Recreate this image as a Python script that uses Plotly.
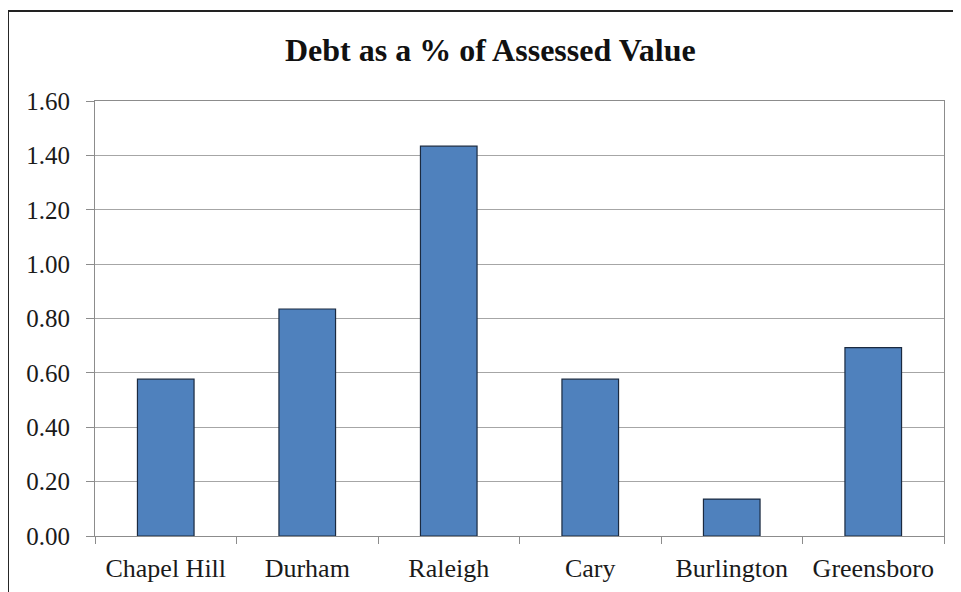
import plotly.graph_objects as go

categories = ["Chapel Hill", "Durham", "Raleigh", "Cary", "Burlington", "Greensboro"]
values = [0.577, 0.835, 1.434, 0.577, 0.136, 0.693]
y_ticks = [0.0, 0.2, 0.4, 0.6, 0.8, 1.0, 1.2, 1.4, 1.6]
y_tick_labels = ["%.2f" % v for v in y_ticks]

font_family = "Liberation Serif"

fig = go.Figure(go.Bar(
    x=categories, y=values,
    marker=dict(color="#4F81BD", line=dict(color="#1B2A40", width=1.2)),
))

fig.update_layout(
    width=961, height=592,
    margin=dict(l=87, r=25, t=93, b=64),
    paper_bgcolor="white", plot_bgcolor="white",
    bargap=0.6,
    showlegend=False,
    font=dict(family=font_family, size=25, color="#1a1a1a"),
    annotations=[dict(
        text="<b>Debt as a % of Assessed Value</b>",
        xref="paper", yref="paper", x=0.4664, y=1.117,
        xanchor="center", yanchor="middle", showarrow=False,
        font=dict(family=font_family, size=32, color="#111111"),
    )],
    shapes=[dict(
        type="rect", xref="paper", yref="paper",
        x0=-0.1025, y0=-0.3, x1=1.1, y1=1.2069,
        line=dict(color="#222222", width=2), fillcolor="rgba(0,0,0,0)",
        layer="below",
    )],
)

fig.update_xaxes(
    showline=True, linecolor="#8c8c8c", linewidth=1, mirror=True,
    ticks="outside", tickson="boundaries", ticklen=7, tickcolor="#8c8c8c",
    showgrid=False,
    tickfont=dict(family=font_family, size=26, color="#1a1a1a"),
    ticklabelstandoff=9,
)
fig.update_yaxes(
    range=[0, 1.6], tickvals=y_ticks, ticktext=y_tick_labels,
    showline=True, linecolor="#8c8c8c", linewidth=1, mirror=True,
    ticks="outside", ticklen=8, tickcolor="#8c8c8c",
    showgrid=True, gridcolor="#a6a6a6", gridwidth=1,
    zeroline=False,
    tickfont=dict(family=font_family, size=25, color="#1a1a1a"),
    ticklabelstandoff=11,
)

fig.write_html("out.html")
